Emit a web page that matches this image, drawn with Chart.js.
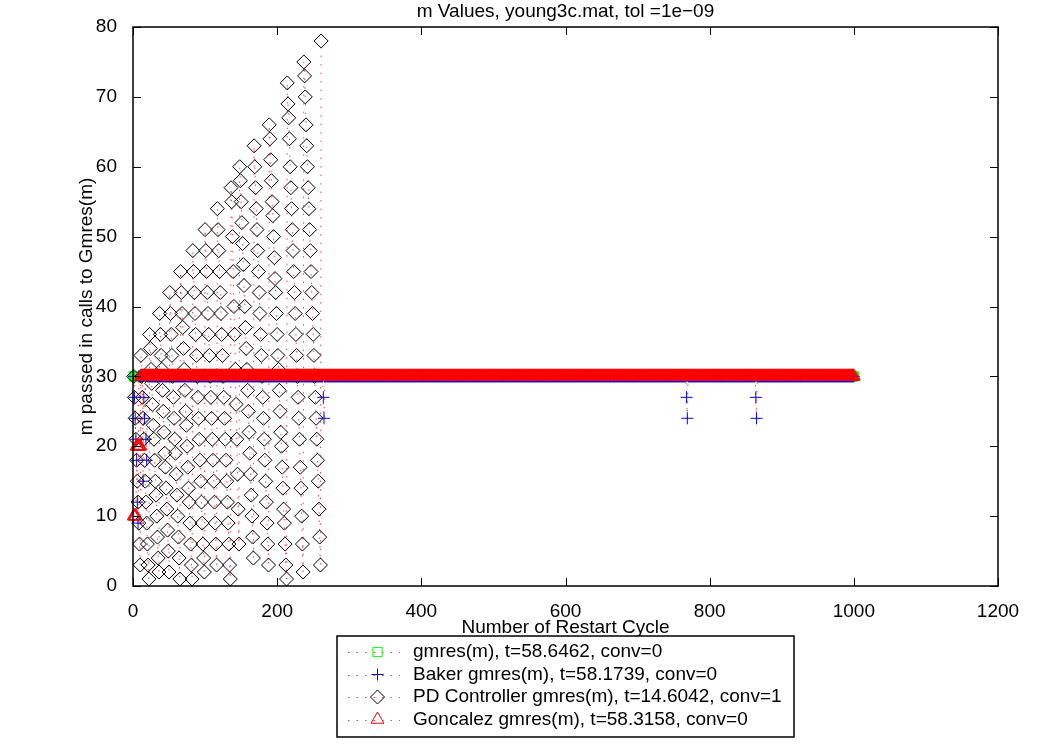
<!DOCTYPE html>
<html>
<head>
<meta charset="utf-8">
<script src="https://cdn.jsdelivr.net/npm/chart.js@4.4.1/dist/chart.umd.min.js"></script>
<style>
  html, body { margin: 0; padding: 0; background: #fff; }
  #wrap { width: 1047px; height: 756px; }
</style>
</head>
<body>
<div id="wrap"><canvas id="chart" width="1047" height="756"></canvas></div>
<script>
var chartTitle = 'm Values, young3c.mat, tol =1e\u221209';
var xTitle = 'Number of Restart Cycle';
var yTitle = 'm passed in calls to Gmres(m)';
var xTicks = [0, 200, 400, 600, 800, 1000, 1200];
var yTicks = [0, 10, 20, 30, 40, 50, 60, 70, 80];
var seriesNames = [
  'gmres(m), t=58.6462, conv=0',
  'Baker gmres(m), t=58.1739, conv=0',
  'PD Controller gmres(m), t=14.6042, conv=1',
  'Goncalez gmres(m), t=58.3158, conv=0'
];

// runs of [m, number of restart cycles with that m]
var gmresRuns = [[30, 1000]];
var bakerRuns = [[30, 1], [27, 1], [24, 1], [21, 1], [18, 1], [12, 1], [9, 1], [30, 6],
  [15, 1], [27, 1], [24, 1], [30, 1], [21, 1], [18, 1], [30, 244], [27, 1], [24, 1],
  [30, 502], [27, 1], [24, 1], [30, 94], [27, 1], [24, 1], [30, 135]];
var goncalezRuns = [[10, 4], [20, 6], [30, 990]];

// PD controller: m for each restart cycle, one row per saw tooth
var pdCycles = [
  [30, 27, 24, 21, 18, 15, 12, 9, 6, 3],
  [33, 30, 27, 24, 21, 18, 15, 12, 9, 6, 3, 1],
  [36, 34, 31, 29, 26, 23, 21, 18, 15, 13, 10, 7, 4, 2],
  [39, 36, 33, 31, 28, 25, 22, 19, 17, 14, 11, 8, 5, 2],
  [42, 39, 36, 33, 30, 27, 24, 21, 19, 16, 13, 10, 7, 4, 1],
  [45, 42, 39, 37, 34, 31, 28, 25, 23, 20, 17, 14, 12, 9, 6, 3, 1],
  [48, 45, 42, 39, 36, 33, 30, 27, 24, 21, 18, 15, 12, 9, 6, 4, 2],
  [51, 48, 45, 42, 39, 36, 33, 30, 27, 24, 21, 18, 15, 12, 9, 6, 3],
  [54, 51, 48, 45, 42, 39, 36, 33, 30, 27, 24, 21, 18, 15, 12, 9, 6, 3, 1],
  [57, 55, 50, 45, 40, 36, 31, 26, 21, 16, 11, 6],
  [60, 58, 55, 52, 49, 46, 43, 40, 37, 34, 31, 28, 25, 22, 19, 16, 13, 10, 7, 4],
  [63, 60, 57, 54, 51, 48, 45, 42, 39, 36, 33, 30, 27, 24, 21, 18, 15, 12, 9, 6, 3],
  [66, 64, 61, 58, 55, 53, 50, 47, 44, 42, 39, 36, 33, 31, 28, 25, 22, 20, 17, 14, 11, 9, 6, 3, 1],
  [72, 69, 67, 64, 60, 57, 54, 51, 48, 45, 42, 39, 36, 33, 30, 27, 24, 21, 17, 14, 10, 6, 2],
  [75, 73, 70, 66, 63, 60, 57, 54, 51, 48, 45, 42, 39, 36, 33, 30, 27, 24, 21, 18, 15, 11, 7, 3],
  [78]
];

var FONT = "'Liberation Sans', Arial, Helvetica, sans-serif";
var LINE_RED = 'rgba(255,0,0,0.75)';

function expandRuns(runs) {
  var pts = [], x = 1;
  runs.forEach(function (r) {
    for (var k = 0; k < r[1]; k++) { pts.push({x: x, y: r[0]}); x++; }
  });
  return pts;
}

var pdPoints = [].concat.apply([], pdCycles).map(function (m, i) {
  return {x: i + 1, y: m};
});

// marker spec per series: style, colour, radius
var markers = [
  {style: 'rect', color: '#00ff00', r: 6.5},
  {style: 'cross', color: '#0000ff', r: 6},
  {style: 'rectRot', color: '#000000', r: 7},
  {style: 'triangle', color: '#ff0000', r: 7.5}
];

function series(i, points, order) {
  var mk = markers[i];
  return {
    label: seriesNames[i],
    data: points,
    order: order,
    showLine: true,
    borderColor: LINE_RED,
    borderWidth: 1,
    borderDash: [1.5, 7],
    fill: false,
    tension: 0,
    clip: false,
    pointStyle: mk.style,
    pointRadius: mk.r,
    pointHoverRadius: mk.r,
    pointBorderColor: mk.color,
    pointBackgroundColor: 'rgba(0,0,0,0)',
    pointBorderWidth: 1
  };
}

function drawMarker(ctx, style, cx, cy, r) {
  ctx.beginPath();
  if (style === 'rect') {
    var s = r * Math.SQRT1_2;
    ctx.rect(cx - s, cy - s, 2 * s, 2 * s);
  } else if (style === 'cross') {
    ctx.moveTo(cx - r, cy); ctx.lineTo(cx + r, cy);
    ctx.moveTo(cx, cy - r); ctx.lineTo(cx, cy + r);
  } else if (style === 'rectRot') {
    ctx.moveTo(cx - r, cy); ctx.lineTo(cx, cy - r);
    ctx.lineTo(cx + r, cy); ctx.lineTo(cx, cy + r); ctx.closePath();
  } else {
    for (var k = 0; k < 3; k++) {
      var a = k * 2 * Math.PI / 3;
      var px = cx + Math.sin(a) * r, py = cy - Math.cos(a) * r;
      if (k === 0) ctx.moveTo(px, py); else ctx.lineTo(px, py);
    }
    ctx.closePath();
  }
  ctx.stroke();
}

var matlabAxes = {
  id: 'matlabAxes',
  afterDraw: function (chart) {
    var ctx = chart.ctx, a = chart.chartArea;
    var xs = chart.scales.x, ys = chart.scales.y;
    var cx = (a.left + a.right) / 2;
    ctx.save();
    ctx.strokeStyle = '#000';
    ctx.lineWidth = 1.5;
    ctx.setLineDash([]);
    ctx.strokeRect(a.left, a.top, a.right - a.left, a.bottom - a.top);

    // inward ticks on all four sides
    ctx.lineWidth = 1;
    ctx.beginPath();
    xTicks.forEach(function (v) {
      var px = Math.round(xs.getPixelForValue(v)) + 0.5;
      ctx.moveTo(px, a.bottom); ctx.lineTo(px, a.bottom - 8);
      ctx.moveTo(px, a.top); ctx.lineTo(px, a.top + 8);
    });
    yTicks.forEach(function (v) {
      var py = Math.round(ys.getPixelForValue(v)) + 0.5;
      ctx.moveTo(a.left, py); ctx.lineTo(a.left + 8, py);
      ctx.moveTo(a.right, py); ctx.lineTo(a.right - 8, py);
    });
    ctx.stroke();

    // titles
    ctx.fillStyle = '#000';
    ctx.font = '19px ' + FONT;
    ctx.textAlign = 'center';
    ctx.textBaseline = 'alphabetic';
    ctx.fillText(chartTitle, cx, 16.5);
    ctx.fillText(xTitle, cx, 633);
    ctx.save();
    ctx.translate(92, (a.top + a.bottom) / 2);
    ctx.rotate(-Math.PI / 2);
    ctx.fillText(yTitle, 0, 0);
    ctx.restore();

    // legend box below the axes
    var box = {x: 337, y: 636, w: 457, h: 101};
    ctx.fillStyle = '#fff';
    ctx.fillRect(box.x, box.y, box.w, box.h);
    ctx.lineWidth = 1.5;
    ctx.strokeRect(box.x, box.y, box.w, box.h);
    var rowY = [652, 674.5, 697, 719.5];
    ctx.textAlign = 'left';
    ctx.textBaseline = 'middle';
    seriesNames.forEach(function (name, i) {
      var y = rowY[i];
      var ly = Math.round(y) + 0.5;
      ctx.lineWidth = 1;
      ctx.strokeStyle = LINE_RED;
      ctx.setLineDash([1.5, 7]);
      ctx.beginPath();
      ctx.moveTo(348, ly); ctx.lineTo(400, ly);
      ctx.stroke();
      ctx.setLineDash([]);
      ctx.strokeStyle = markers[i].color;
      drawMarker(ctx, markers[i].style, 377.5, y, markers[i].r);
      ctx.fillStyle = '#000';
      ctx.fillText(name, 413, y);
    });
    ctx.restore();
  }
};

Chart.defaults.font.family = FONT;
Chart.defaults.font.size = 19;
Chart.defaults.color = '#000';

function plainLabel(v) { return String(v); }

new Chart(document.getElementById('chart').getContext('2d'), {
  type: 'line',
  data: {
    datasets: [
      series(0, expandRuns(gmresRuns), 4),
      series(1, expandRuns(bakerRuns), 3),
      series(2, pdPoints, 2),
      series(3, expandRuns(goncalezRuns), 1)
    ]
  },
  options: {
    responsive: false,
    animation: false,
    events: [],
    layout: { padding: { left: 0, right: 49, top: 27, bottom: 0 } },
    plugins: {
      legend: { display: false },
      title: { display: false },
      tooltip: { enabled: false }
    },
    scales: {
      x: {
        type: 'linear',
        min: 0, max: 1200,
        afterBuildTicks: function (s) { s.ticks = xTicks.map(function (v) { return {value: v}; }); },
        ticks: { padding: 6, maxRotation: 0, color: '#000', callback: plainLabel },
        grid: { display: false },
        border: { display: false },
        afterFit: function (s) { s.height = 170; }
      },
      y: {
        type: 'linear',
        min: 0, max: 80,
        afterBuildTicks: function (s) { s.ticks = yTicks.map(function (v) { return {value: v}; }); },
        ticks: { padding: 8, color: '#000', callback: plainLabel },
        grid: { display: false },
        border: { display: false },
        afterFit: function (s) { s.width = 133; }
      }
    }
  },
  plugins: [matlabAxes]
});
</script>
</body>
</html>
